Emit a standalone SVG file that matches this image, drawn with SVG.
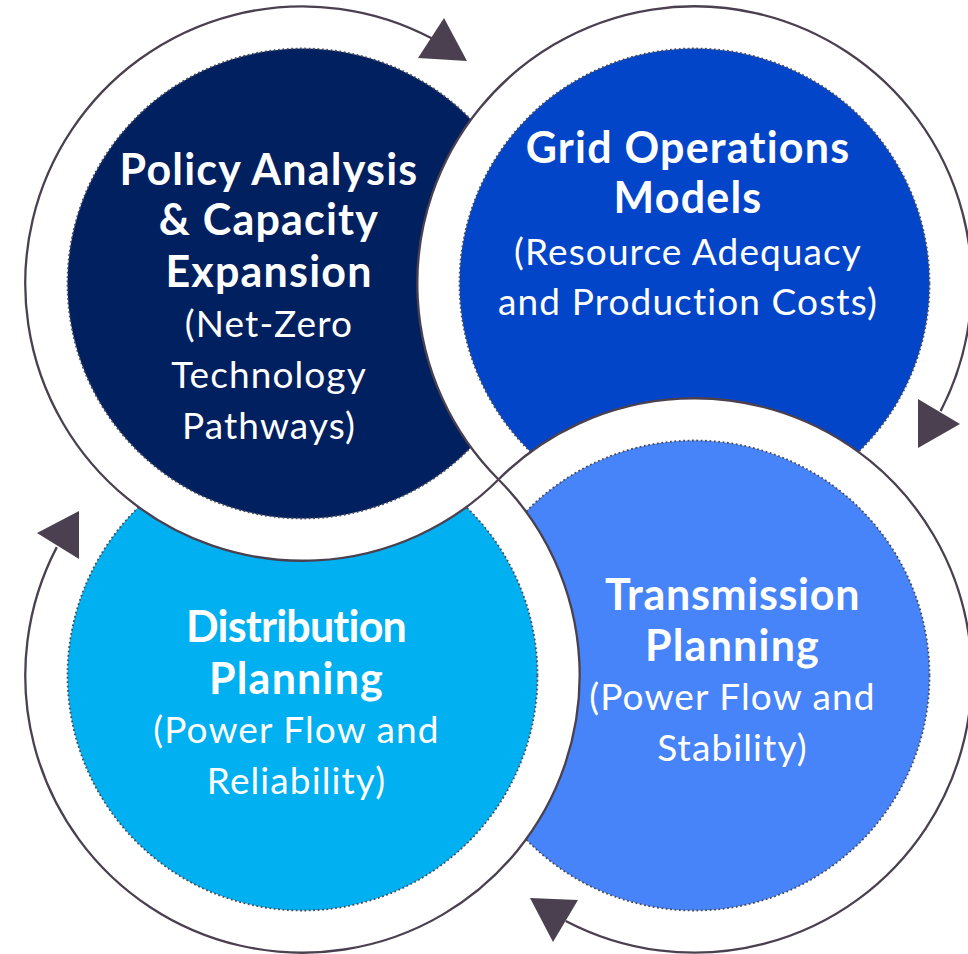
<svg xmlns="http://www.w3.org/2000/svg" width="968" height="954" viewBox="0 0 968 954">
<defs>
<style>
.disk{fill:#ffffff}
.core{stroke:#4a4a58;stroke-width:1.8;stroke-dasharray:1.8 2.6}
.ring{fill:none;stroke:#4b4050;stroke-width:2.3}
.head{fill:#4b4050}
.t{font-family:Lato,"Liberation Sans",sans-serif;fill:#ffffff;text-anchor:middle;font-variant-ligatures:none}
.h{font-weight:700;font-size:43px;letter-spacing:1.2px}
.s{font-weight:400;font-size:37px;letter-spacing:1.1px}
</style>
<clipPath id="clip-br">
<path clip-rule="evenodd" d="M0 0H968V954H0Z M25.3 675.5a277.2 277.2 0 1 0 554.4 0a277.2 277.2 0 1 0 -554.4 0Z"/>
</clipPath>
</defs>
<rect width="968" height="954" fill="#ffffff"/>

<g id="node-bl">
<circle class="disk" cx="302.5" cy="675.5" r="277.2"/>
<circle class="core" cx="302.5" cy="675.5" r="235" fill="#00b0f0"/>
<text class="t h" x="296" y="642" style="letter-spacing:-0.8px">Distribution</text>
<text class="t h" x="296.5" y="693.7">Planning</text>
<text class="t s" x="296.5" y="742.7">(Power Flow and</text>
<text class="t s" x="296.5" y="793.7">Reliability)</text>
</g>

<g id="node-tl">
<circle class="disk" cx="302.5" cy="283.5" r="277.2"/>
<circle class="core" cx="302.5" cy="283.5" r="235" fill="#002060"/>
<text class="t h" x="269" y="185">Policy Analysis</text>
<text class="t h" x="269" y="235">&amp; Capacity</text>
<text class="t h" x="269" y="287.3">Expansion</text>
<text class="t s" x="269" y="337.3">(Net-Zero</text>
<text class="t s" x="269" y="387.7">Technology</text>
<text class="t s" x="269" y="439.3">Pathways)</text>
</g>

<g id="node-tr">
<circle class="disk" cx="694.5" cy="283.5" r="277.2"/>
<circle class="core" cx="694.5" cy="283.5" r="235" fill="#0345c8"/>
<text class="t h" x="688" y="163.3">Grid Operations</text>
<text class="t h" x="688" y="213.3">Models</text>
<text class="t s" x="688" y="265">(Resource Adequacy</text>
<text class="t s" x="688" y="315">and Production Costs)</text>
</g>

<g id="node-br" clip-path="url(#clip-br)">
<circle class="disk" cx="694.5" cy="675.5" r="277.2"/>
<circle class="core" cx="694.5" cy="675.5" r="235" fill="#4784f9"/>
<text class="t h" x="732.5" y="609.7" style="letter-spacing:0.7px">Transmission</text>
<text class="t h" x="732.5" y="661">Planning</text>
<text class="t s" x="732.5" y="710.3">(Power Flow and</text>
<text class="t s" x="732.5" y="761">Stability)</text>
</g>

<g id="connectors">
<path class="ring" d="M498.5 479.5A277.2 277.2 0 1 1 432.6 38.8"/>
<polygon class="head" points="444,18 418,58 467,61"/>
<path class="ring" d="M498.5 479.5A277.2 277.2 0 1 1 940.6 411.1"/>
<polygon class="head" points="918,399 960,424 918,448"/>
<path class="ring" d="M498.5 479.5A277.2 277.2 0 1 1 565.7 920.9"/>
<polygon class="head" points="530,898 578,900 553,942"/>
<path class="ring" d="M498.5 479.5A277.2 277.2 0 1 1 56.8 547.1"/>
<polygon class="head" points="37,533 79,511 79,559"/>
</g>
</svg>
